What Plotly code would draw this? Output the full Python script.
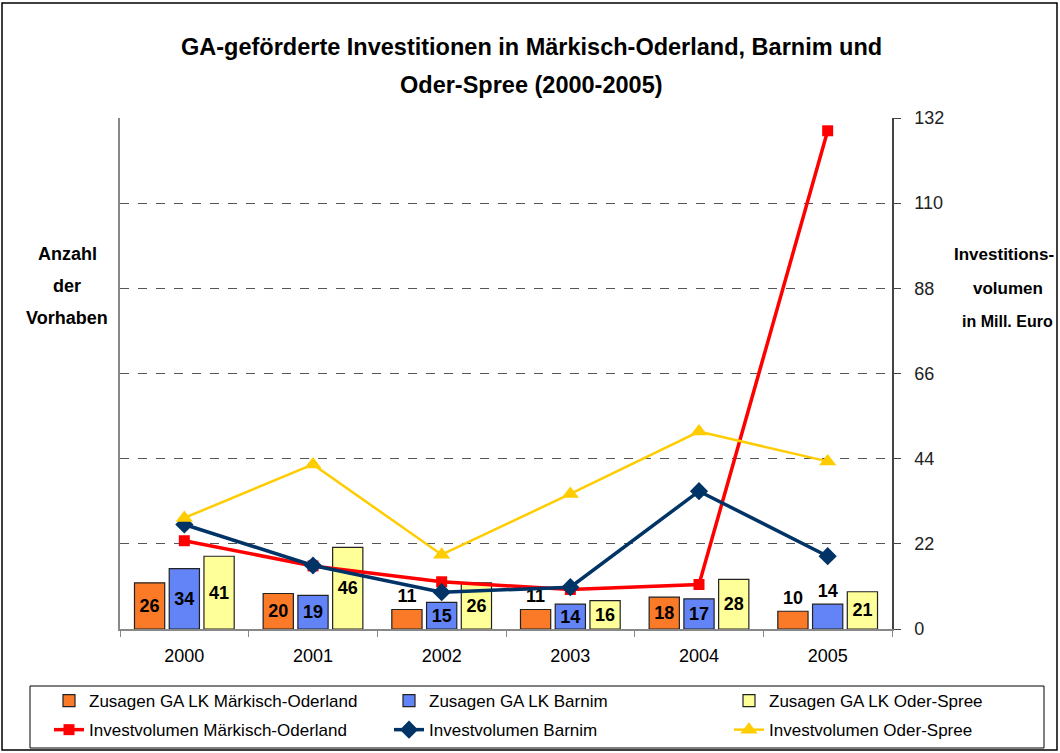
import plotly.graph_objects as go

years = ["2000", "2001", "2002", "2003", "2004", "2005"]

zusagen_mol = [26, 20, 11, 11, 18, 10]
zusagen_barnim = [34, 19, 15, 14, 17, 14]
zusagen_os = [41, 46, 26, 16, 28, 21]

invest_mol = [22.8, 16.3, 12.2, 10.2, 11.5, 128.7]
invest_barnim = [27.0, 16.4, 9.5, 10.8, 35.6, 18.8]
invest_os = [28.7, 42.5, 19.2, 34.9, 51.0, 43.3]

right_ticks = [0, 22, 44, 66, 88, 110, 132]

FONT = "Liberation Sans, Arial, sans-serif"

# plot area geometry (pixels)
L, R, T, B = 120, 892, 118, 629
W, H = 1060, 753
pw, ph = R - L, B - T


def px(x):
    return (x - L) / pw


def py(y):
    return (B - y) / ph


def pos(vals, out_set):
    return ["outside" if i in out_set else "inside" for i in range(len(vals))]


fig = go.Figure()

bar_common = dict(
    texttemplate="%{y}",
    textfont=dict(family=FONT, size=18, color="black", weight="bold"),
    cliponaxis=False,
    marker_line=dict(color="#222222", width=1.2),
    insidetextanchor="middle",
)

fig.add_trace(go.Bar(
    x=years, y=zusagen_mol, name="Zusagen GA LK Märkisch-Oderland",
    marker_color="#FA7A28", textposition=pos(zusagen_mol, {2, 3, 5}),
    legend="legend", legendgroup="a", **bar_common))
fig.add_trace(go.Bar(
    x=years, y=zusagen_barnim, name="Zusagen GA LK Barnim",
    marker_color="#6384F7", textposition=pos(zusagen_barnim, {5}),
    legend="legend2", legendgroup="c", **bar_common))
fig.add_trace(go.Bar(
    x=years, y=zusagen_os, name="Zusagen GA LK Oder-Spree",
    marker_color="#FFFF99", textposition=pos(zusagen_os, set()),
    legend="legend3", legendgroup="e", **bar_common))

fig.add_trace(go.Scatter(
    x=years, y=invest_mol, name="Investvolumen Märkisch-Oderland", yaxis="y2",
    mode="lines+markers", line=dict(color="#FF0000", width=3.5),
    marker=dict(symbol="square", size=11, color="#FF0000"), cliponaxis=False,
    legend="legend", legendgroup="b"))
fig.add_trace(go.Scatter(
    x=years, y=invest_barnim, name="Investvolumen Barnim", yaxis="y2",
    mode="lines+markers", line=dict(color="#003366", width=3.5),
    marker=dict(symbol="diamond", size=14, color="#003366"), cliponaxis=False,
    legend="legend2", legendgroup="d"))
fig.add_trace(go.Scatter(
    x=years, y=invest_os, name="Investvolumen Oder-Spree", yaxis="y2",
    mode="lines+markers", line=dict(color="#FFCC00", width=2.5),
    marker=dict(symbol="triangle-up", size=15, color="#FFCC00"), cliponaxis=False,
    legend="legend3", legendgroup="f"))

annotations = [
    dict(text="<b>GA-geförderte Investitionen in Märkisch-Oderland, Barnim und</b>",
         x=px(531), y=py(47), font=dict(size=23.5)),
    dict(text="<b>Oder-Spree (2000-2005)</b>", x=px(531), y=py(85), font=dict(size=23.5)),
    dict(text="<b>Anzahl</b>", x=px(67), y=py(254), font=dict(size=18)),
    dict(text="<b>der</b>", x=px(67), y=py(286), font=dict(size=18)),
    dict(text="<b>Vorhaben</b>", x=px(67), y=py(318), font=dict(size=18)),
    dict(text="<b>Investitions-</b>", x=px(1004), y=py(254), font=dict(size=17)),
    dict(text="<b>volumen</b>", x=px(1008), y=py(288), font=dict(size=17)),
    dict(text="<b>in Mill. Euro</b>", x=px(1007), y=py(321), font=dict(size=16)),
]
for a in annotations:
    a.update(xref="paper", yref="paper", showarrow=False, xanchor="center", yanchor="middle")
    a["font"].update(family=FONT, color="black")


def leg(xpix):
    return dict(
        orientation="v", xref="paper", yref="paper",
        x=px(xpix), y=py(683), xanchor="left", yanchor="top",
        borderwidth=0, bgcolor="rgba(0,0,0,0)",
        font=dict(family=FONT, size=17, color="black"),
        traceorder="grouped", tracegroupgap=4,
    )


fig.update_layout(
    width=W, height=H,
    margin=dict(l=L, r=W - R, t=T, b=H - B, autoexpand=False),
    paper_bgcolor="white", plot_bgcolor="white",
    font=dict(family=FONT, color="black"),
    barmode="group", bargap=0.19, bargroupgap=0.13,
    showlegend=True,
    legend=leg(49),
    legend2=leg(389),
    legend3=leg(729),
    xaxis=dict(
        type="category", showline=True, linecolor="#888888", linewidth=2,
        ticks="outside", tickson="boundaries", ticklen=6, tickcolor="#888888",
        tickfont=dict(family=FONT, size=18, color="black"), showgrid=False,
        ticklabelstandoff=9,
    ),
    yaxis=dict(
        range=[0, 288], showticklabels=False, showgrid=False, zeroline=False,
        showline=True, linecolor="#888888", linewidth=2, ticks="",
    ),
    yaxis2=dict(
        overlaying="y", side="right", range=[0, 132], tickvals=right_ticks,
        showgrid=True, gridcolor="#555555", griddash="dash", gridwidth=1,
        zeroline=False, showline=True, linecolor="#444444", linewidth=1.5,
        ticks="outside", ticklen=7, tickcolor="#444444", ticklabelstandoff=10,
        tickfont=dict(family=FONT, size=18, color="#222222"),
    ),
    annotations=annotations,
    shapes=[
        dict(type="rect", xref="paper", yref="paper",
             x0=px(2), x1=px(1057), y0=py(750), y1=py(3),
             line=dict(color="black", width=1.5), fillcolor="rgba(0,0,0,0)",
             layer="below"),
        dict(type="rect", xref="paper", yref="paper",
             x0=px(30), x1=px(1044), y0=py(748), y1=py(686),
             line=dict(color="black", width=1), fillcolor="rgba(0,0,0,0)",
             layer="below"),
    ],
    uniformtext=dict(minsize=18, mode="show"),
)

fig.write_html("out.html", config={"displayModeBar": False},
               post_script="document.body.style.margin='0px';")
